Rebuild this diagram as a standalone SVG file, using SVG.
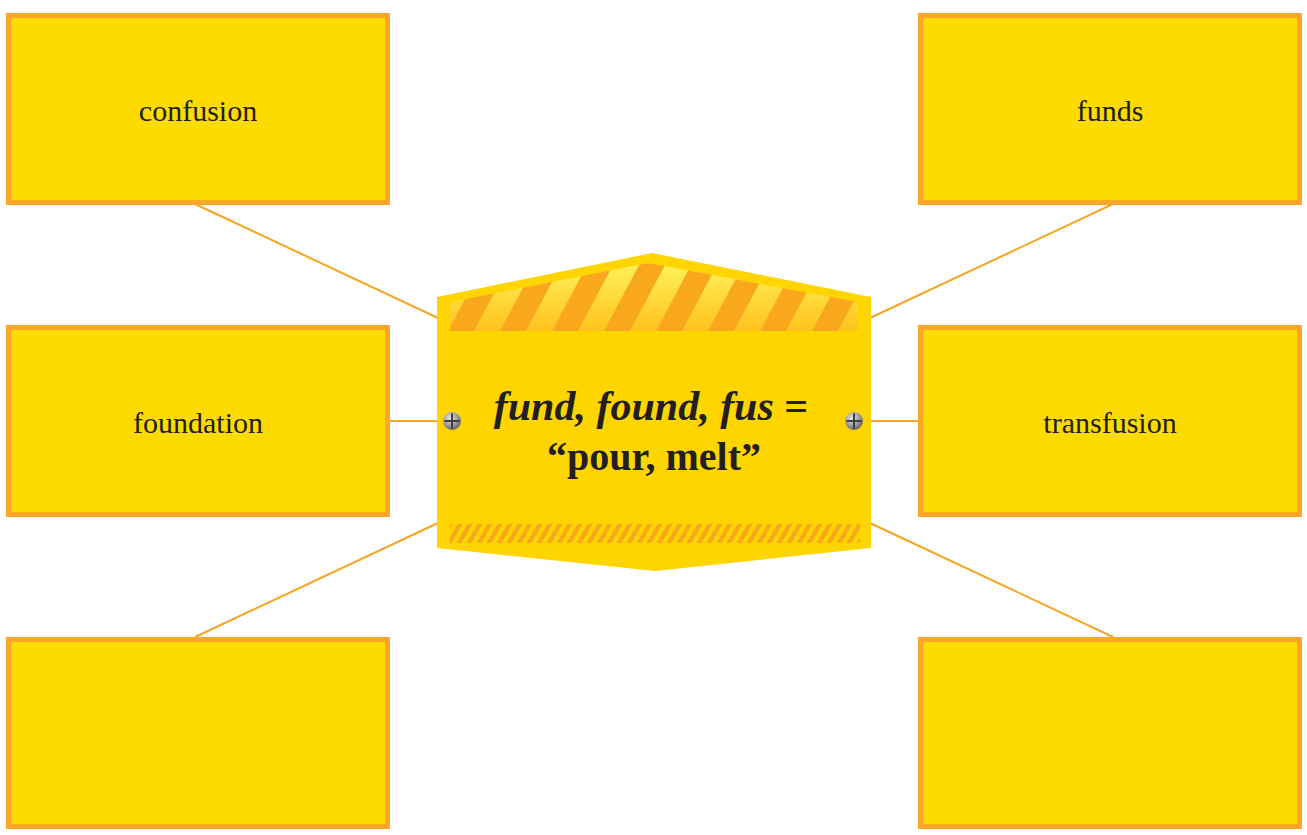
<svg xmlns="http://www.w3.org/2000/svg" width="1307" height="835" viewBox="0 0 1307 835">
<style>
.box{fill:#FDDA00;stroke:#F9A825;stroke-width:5}
.lbl{font-family:"Liberation Serif",serif;font-size:30px;fill:#231F20;text-anchor:middle}
.conn line{stroke:#F5A623;stroke-width:2}
.ttl{font-family:"Liberation Serif",serif;font-weight:bold;fill:#231F20;text-anchor:middle;font-size:40px}
.ttl1{font-size:42px}
</style>
<defs>
<linearGradient id="bandG" x1="0" y1="0" x2="0" y2="1">
<stop offset="0" stop-color="#FFF25C"/>
<stop offset="1" stop-color="#FFC21C"/>
</linearGradient>
<pattern id="wide" patternUnits="userSpaceOnUse" width="52" height="400" patternTransform="skewX(-28)">
<rect x="0" y="0" width="26" height="400" fill="#F9A81E"/>
</pattern>
<pattern id="thin" patternUnits="userSpaceOnUse" width="10" height="100" patternTransform="skewX(-30)">
<rect x="0" y="0" width="5" height="100" fill="#F9A81E"/>
</pattern>
<radialGradient id="screwG" cx="0.4" cy="0.35" r="0.7">
<stop offset="0" stop-color="#E6E6E6"/>
<stop offset="0.6" stop-color="#9A9A9A"/>
<stop offset="1" stop-color="#5A5A5A"/>
</radialGradient>
<g id="screw">
<circle r="9" fill="url(#screwG)"/>
<path d="M-7.5 0H7.5M0 -7.5V7.5" stroke="#3F3F3F" stroke-width="2"/>
</g>
</defs>
<rect width="1307" height="835" fill="#FFFFFF"/>
<g id="connectors" class="conn">
<line x1="195" y1="204" x2="438" y2="318"/>
<line x1="1113" y1="204" x2="870" y2="318"/>
<line x1="389" y1="421" x2="438" y2="421"/>
<line x1="870" y1="421" x2="918" y2="421"/>
<line x1="195" y1="637" x2="438" y2="523"/>
<line x1="1113" y1="637" x2="870" y2="523"/>
</g>
<g id="node-confusion"><rect class="box" x="8.5" y="15.5" width="379" height="187"/><text class="lbl" x="198" y="121">confusion</text></g>
<g id="node-foundation"><rect class="box" x="8.5" y="327.5" width="379" height="187"/><text class="lbl" x="198" y="433">foundation</text></g>
<g id="node-bottom-left"><rect class="box" x="8.5" y="639.5" width="379" height="187"/></g>
<g id="node-funds"><rect class="box" x="920.5" y="15.5" width="379" height="187"/><text class="lbl" x="1110" y="121">funds</text></g>
<g id="node-transfusion"><rect class="box" x="920.5" y="327.5" width="379" height="187"/><text class="lbl" x="1110" y="433">transfusion</text></g>
<g id="node-bottom-right"><rect class="box" x="920.5" y="639.5" width="379" height="187"/></g>
<g id="node-center">
<polygon points="437,297 652,253 871,297 871,548 655,571 437,548" fill="#FFD500"/>
<polygon points="450,302 648,263 858,302 858,331 450,331" fill="url(#bandG)"/>
<polygon points="450,302 648,263 858,302 858,331 450,331" fill="url(#wide)"/>
<rect x="450" y="524" width="410" height="19" fill="url(#thin)"/>
<use href="#screw" x="452" y="421"/>
<use href="#screw" x="854" y="421"/>
<text class="ttl ttl1" x="651" y="420"><tspan font-style="italic">fund, found, fus</tspan> =</text>
<text class="ttl" x="654" y="470">“pour, melt”</text>
</g>
</svg>
